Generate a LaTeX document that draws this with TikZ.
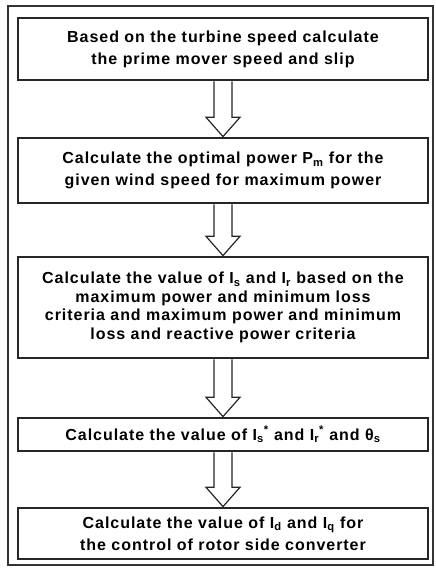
\documentclass[tikz,border=0pt]{standalone}
\usepackage{fontspec}
\setmainfont{Liberation Sans}
\newfontfamily\stepfont[LetterSpace=6]{Liberation Sans}
\usetikzlibrary{calc}
\begin{document}
\begin{tikzpicture}[x=1pt,y=-1pt,
  stepbox/.style={draw=black!85, line width=1.4pt, minimum width=410pt,
    align=center, font=\stepfont\fontsize{16}{22}\selectfont\bfseries, inner sep=2pt},
  densebox/.style={stepbox, font=\stepfont\fontsize{16}{18.5}\selectfont\bfseries},
  hollowarrow/.style={draw=black!85, line width=1.2pt, fill=white, line join=miter}]
  % page extent and outer frame
  \useasboundingbox (0,0) rectangle (436,568);
  \draw[line width=1.2pt, black!80] (8,6) rectangle (433,565);

  % process steps
  \node[stepbox, minimum height=62pt] (b1) at (223,49)
    {Based on the turbine speed calculate\\the prime mover speed and slip};
  \node[stepbox, minimum height=65pt] (b2) at (223,170.5)
    {Calculate the optimal power P\textsubscript{m} for the\\given wind speed for maximum power};
  \node[densebox, minimum height=101pt] (b3) at (223,307.5)
    {Calculate the value of I\textsubscript{s} and I\textsubscript{r} based on the\\maximum power and minimum loss\\criteria and maximum power and minimum\\loss and reactive power criteria};
  \node[stepbox, minimum height=33pt] (b4) at (223,434.5)
    {Calculate the value of I\textsubscript{s}\textsuperscript{*} and I\textsubscript{r}\textsuperscript{*} and θ\textsubscript{s}};
  \node[stepbox, minimum height=51pt] (b5) at (223,533.5)
    {Calculate the value of I\textsubscript{d} and I\textsubscript{q} for\\the control of rotor side converter};

  % hollow block arrows between consecutive steps
  \foreach \a/\b in {b1/b2, b2/b3, b3/b4, b4/b5}{
    \draw[hollowarrow]
      ($(\a.south)+(-9,0.7)$) -- ($(\b.north)+(-9,-20)$) -- ($(\b.north)+(-17,-20)$)
      -- ($(\b.north)+(0,-0.7)$) -- ($(\b.north)+(17,-20)$) -- ($(\b.north)+(9,-20)$)
      -- ($(\a.south)+(9,0.7)$);
  }
\end{tikzpicture}
\end{document}
